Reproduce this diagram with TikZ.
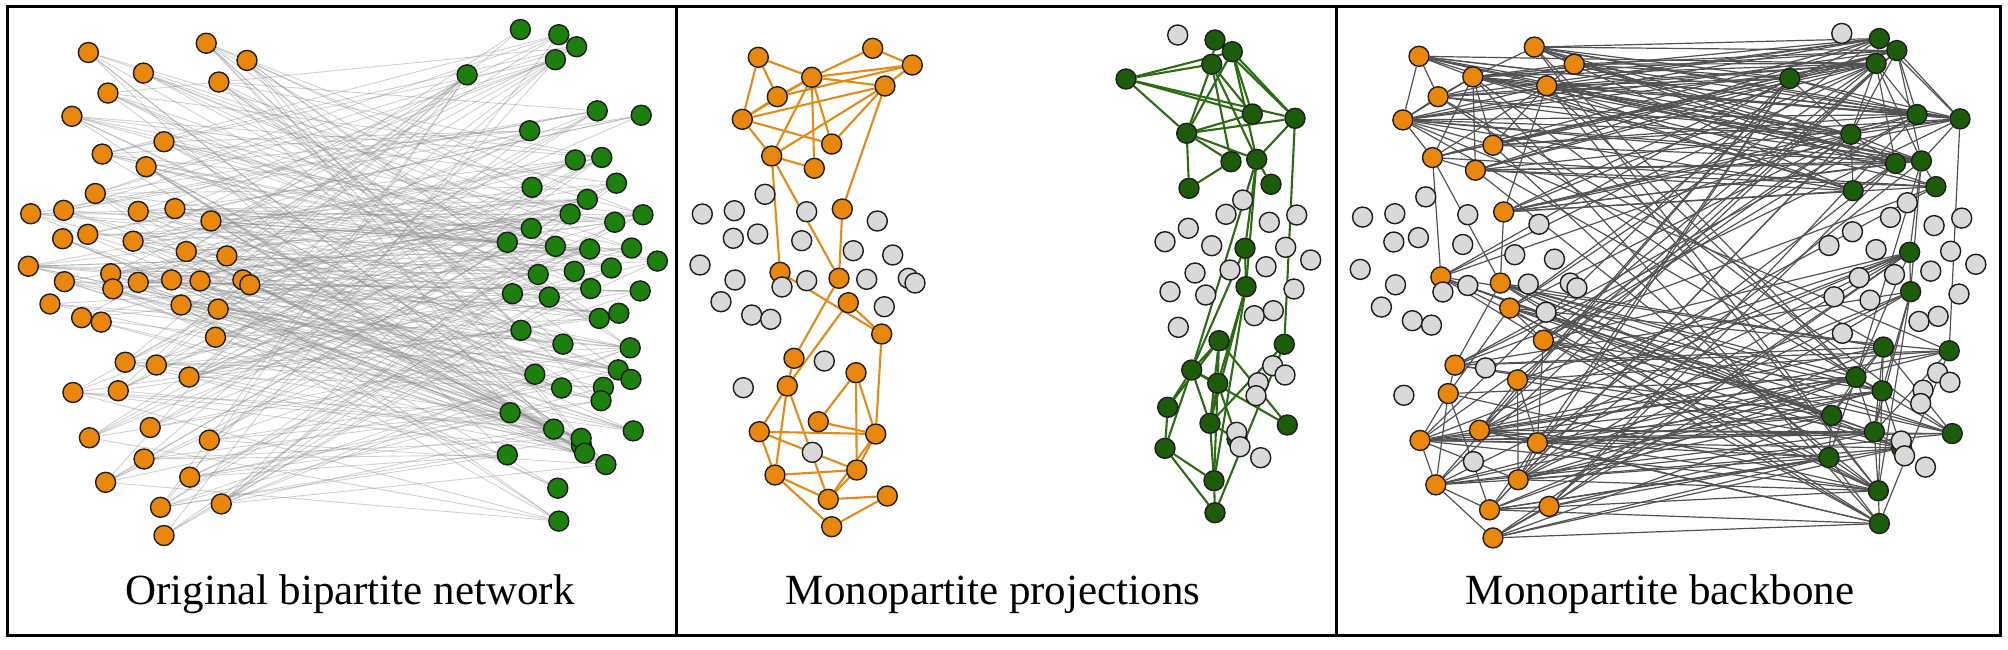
\documentclass[tikz,border=0pt]{standalone}
\usepackage{fontspec}
\setmainfont{Liberation Serif}
\definecolor{cOrange}{HTML}{E8870C}
\definecolor{cGreenA}{HTML}{1C7F0E}
\definecolor{cGreenB}{HTML}{1D5C0B}
\definecolor{cGray}{HTML}{D9D9D9}
\definecolor{cEdgeO}{HTML}{E38B16}
\definecolor{cEdgeG}{HTML}{2C6B14}
\definecolor{cRim}{HTML}{1E1E1E}
\pgfdeclarelayer{bg}
\pgfsetlayers{bg,main}
\tikzset{
  vtx/.style={circle,draw=cRim,line width=0.7pt,minimum size=10pt,inner sep=0pt},
  ndaLc/.style={vtx,fill=cOrange}, ndaLg/.style={vtx,fill=cOrange},
  ndaRc/.style={vtx,fill=cGreenA}, ndaRg/.style={vtx,fill=cGreenA},
  ndbLc/.style={vtx,fill=cOrange}, ndcLc/.style={vtx,fill=cOrange},
  ndbRc/.style={vtx,fill=cGreenB}, ndcRc/.style={vtx,fill=cGreenB},
  ndbLg/.style={vtx,fill=cGray}, ndcLg/.style={vtx,fill=cGray},
  ndbRg/.style={vtx,fill=cGray}, ndcRg/.style={vtx,fill=cGray},
  elight/.style={draw=black!45,line width=0.45pt,opacity=0.4},
  edark/.style={draw=black!68,line width=0.6pt},
  eorange/.style={draw=cEdgeO,line width=1.05pt},
  egreen/.style={draw=cEdgeG,line width=1.05pt},
  frame/.style={draw=black,line width=1.5pt},
  lbl/.style={font=\fontsize{21.5}{25}\selectfont,inner sep=0pt,anchor=base}
}
\def\Lnodes{758.3/57.3/c, 872.7/48.3/c, 912.3/65/c, 811.7/77.3/c, 885/86/c, 777.3/96.7/c, 742.3/119.3/c, 831.7/144/c, 771.7/156/c, 814.3/168.3/c, 842.3/209/c, 780/272.3/c, 839/278.3/c, 848.3/302.7/c, 881.7/334/c, 794/358.3/c, 787.3/386/c, 856/372.7/c, 818.3/421.7/c, 759.3/431.7/c, 875.7/434/c, 775/475/c, 856.7/470/c, 828.3/499.3/c, 887.3/496/c, 831.7/526.7/c, 765/194.3/g, 702.3/214/g, 734.3/210.7/g, 806.7/211.7/g, 877.3/221/g, 733.3/238.3/g, 757.7/234/g, 801.7/240.7/g, 853.3/250.7/g, 892.7/255/g, 700/265/g, 735/280/g, 782/287/g, 806.7/280.7/g, 866.7/279.3/g, 908.3/278.3/g, 915/283/g, 721/301.7/g, 751.7/315/g, 770.7/319.3/g, 884.3/306.7/g, 824.3/361/g, 743.3/387.7/g, 812.3/452.3/g}
\def\Rnodes{1215/40/c, 1232.3/51.7/c, 1211.7/64.3/c, 1126/79/c, 1252.3/114/c, 1295/118.3/c, 1186.7/133.3/c, 1231/161.7/c, 1256.7/159.3/c, 1189/188.3/c, 1271/184.3/c, 1245/248.3/c, 1246/286.7/c, 1219/340.7/c, 1284.3/344.3/c, 1191.7/370/c, 1217.7/383.3/c, 1167.7/407.3/c, 1210/423.3/c, 1287.3/425/c, 1165/448.3/c, 1214/480.7/c, 1215/512.7/c, 1237/439/c, 1177.7/35/g, 1242.7/200/g, 1226/214.3/g, 1188.3/228.3/g, 1165/241.7/g, 1211.7/245.7/g, 1269.3/222.3/g, 1296.7/215/g, 1285.7/247.3/g, 1310.7/260/g, 1195/273/g, 1230/270/g, 1266/266.7/g, 1170/291.7/g, 1205.7/295/g, 1254.3/315.7/g, 1273.3/310.7/g, 1294/289/g, 1178.3/327.3/g, 1272.7/365.7/g, 1285/375/g, 1258.3/382.7/g, 1256/395.7/g, 1236.7/432.3/g, 1240/446.7/g, 1260.7/457.7/g}
\def\LE{1/4,1/6,1/7,2/4,2/3,3/4,4/5,4/6,4/7,4/9,4/10,4/8,7/5,6/3,5/3,5/9,5/8,5/11,7/8,7/6,7/9,9/10,9/12,9/13,11/13,12/15,14/15,13/16,14/17,16/17,15/21,18/19,18/21,18/23,17/20,17/22,17/24,20/21,20/22,20/23,19/21,22/23,22/24,22/26,23/24,21/24,24/25,25/26,21/23}
\def\RE{4/3,4/2,4/5,4/6,4/7,3/1,1/2,3/7,2/7,3/5,3/8,3/9,2/9,2/6,1/6,2/5,7/5,7/6,7/8,7/9,7/10,8/10,9/11,6/9,6/15,9/12,9/16,12/13,9/13,13/17,13/19,13/22,16/14,16/17,16/18,16/21,16/19,16/20,14/17,14/19,14/20,15/19,15/23,18/21,21/22,21/23,22/23,19/22,17/22,17/19,19/24,17/24,12/16,14/18}
\begin{document}
\begin{tikzpicture}[x=0.5pt,y=-0.5pt]
\useasboundingbox (0,0) rectangle (2008,649);
% nodes of the three panels
\foreach \P/\X/\Y/\sx/\sy in {a/88.4/52.5/1.03/1.029, b/758.3/57.3/1/1, c/1419/56.3/1.008/1.026}{
  \foreach \x/\y/\t [count=\i] in \Lnodes {
    \node[nd\P L\t] (\P L\i) at ({\X+(\x-758.3)*\sx},{\Y+(\y-57.3)*\sy}) {};
  }
  \foreach \x/\y/\t [count=\i] in \Rnodes {
    \node[nd\P R\t] (\P R\i) at ({\X+(\x-758.3)*\sx},{\Y+(\y-57.3)*\sy}) {};
  }
}
\begin{pgfonlayer}{bg}
% panel 1: bipartite edges
\pgfmathsetseed{4}
\foreach \i in {1,...,50}{
  \foreach \j in {1,...,50}{
    \pgfmathparse{rnd}
    \ifdim\pgfmathresult pt<0.14pt \draw[elight] (aL\i) -- (aR\j);\fi
  }
}
% panel 2: projections
\foreach \u/\v in \LE {\draw[eorange] (bL\u) -- (bL\v);}
\foreach \u/\v in \RE {\draw[egreen] (bR\u) -- (bR\v);}
% panel 3: backbone
\foreach \u/\v in \LE {\draw[edark] (cL\u) -- (cL\v);}
\foreach \u/\v in \RE {\draw[edark] (cR\u) -- (cR\v);}
\pgfmathsetseed{11}
\foreach \i in {1,...,26}{
  \foreach \j in {1,...,24}{
    \pgfmathsetmacro\pr{((\i<12) && (\j<12)) ? 0.62 : (((\i>11) && (\j>11)) ? 0.45 : 0.085)}
    \pgfmathparse{rnd}
    \ifdim\pgfmathresult pt<\pr pt \draw[edark] (cL\i) -- (cR\j);\fi
  }
}
\end{pgfonlayer}
% frame
\draw[frame] (7,6.7) rectangle (2000,635);
\draw[frame] (676.7,6.7) -- (676.7,635);
\draw[frame] (1336,6.7) -- (1336,635);
% labels
\node[lbl] (t1) at (350,604) {Original bipartite network};
\node[lbl] (t2) at (993,604) {Monopartite projections};
\node[lbl] (t3) at (1660,604) {Monopartite backbone};
\end{tikzpicture}
\end{document}
